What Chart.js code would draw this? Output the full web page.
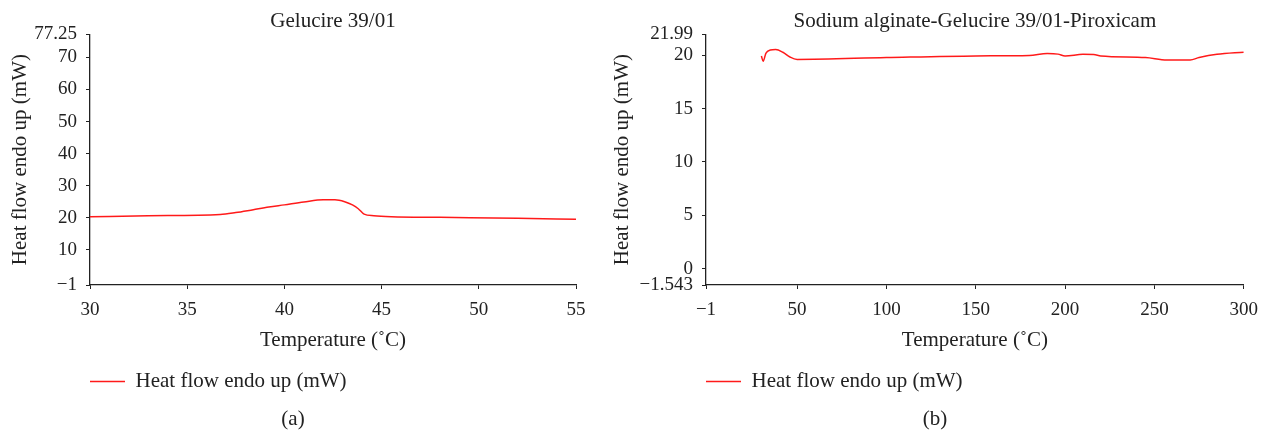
<!DOCTYPE html>
<html>
<head>
<meta charset="utf-8">
<script src="https://cdn.jsdelivr.net/npm/chart.js@4.4.1/dist/chart.umd.min.js"></script>
<style>
    body { margin: 0; background: #fff; width: 1268px; height: 431px; overflow: hidden; position: relative; }
    canvas { position: absolute; top: 0; }
    .caption { position: absolute; top: 406px; width: 60px; margin-left: -30px; text-align: center;
               font: 21px 'Liberation Serif', serif; line-height: 24px; color: #222; }
</style>
</head>
<body>
<canvas id="chart-a" width="600" height="410" style="left:0"></canvas>
<canvas id="chart-b" width="668" height="410" style="left:600px"></canvas>
<div class="caption" style="left:293px">(a)</div>
<div class="caption" style="left:935px">(b)</div>
<script>
// (a) Gelucire 39/01
const tempA = [30, 33, 36.7, 37.5, 38.4, 39.2, 40, 41, 42, 42.6, 43.1, 43.5, 43.8, 44.1, 44.6, 45.5, 48, 52, 55];
const heatA = [20.3, 20.6, 21.0, 21.6, 22.5, 23.3, 24.0, 24.9, 25.6, 25.6, 25.0, 24.0, 22.8, 21.1, 20.6, 20.3, 20.1, 19.8, 19.5];
const xTicksA = [30, 35, 40, 45, 50, 55];
const yTicksA = [-1, 10, 20, 30, 40, 50, 60, 70, 77.25];
const yTickLabelsA = ['\u22121', '10', '20', '30', '40', '50', '60', '70', '77.25'];

// (b) Sodium alginate-Gelucire 39/01-Piroxicam
const tempB = [30, 31, 32.5, 35, 38, 42, 46, 50, 100, 150, 180, 190, 196, 200, 210, 216, 220, 245, 257, 270, 275, 285, 300];
const heatB = [19.95, 19.45, 20.2, 20.5, 20.55, 20.3, 19.85, 19.62, 19.8, 19.95, 20.0, 20.17, 20.12, 19.95, 20.1, 20.08, 19.95, 19.8, 19.58, 19.58, 19.8, 20.1, 20.3];
const xTicksB = [-1, 50, 100, 150, 200, 250, 300];
const xTickLabelsB = ['\u22121', '50', '100', '150', '200', '250', '300'];
const yTicksB = [-1.543, 0, 5, 10, 15, 20, 21.99];
const yTickLabelsB = ['\u22121.543', '0', '5', '10', '15', '20', '21.99'];

const seriesLabel = 'Heat flow endo up (mW)';
const serif = 'Liberation Serif';
const ink = '#222';

function setTicks(values) {
    return scale => { scale.ticks = values.map(v => ({ value: v })); };
}

// createDscChart draws one panel: title, both axes and the single red trace
function createDscChart(targetID, opts) {
    const ctx = document.getElementById(targetID).getContext('2d');
    return new Chart(ctx, {
        type: 'line',
        data: {
            datasets: [{
                label: seriesLabel,
                data: opts.temps.map((t, i) => ({ x: t, y: opts.heat[i] })),
                borderColor: '#ff1a1a',
                borderWidth: 1.5,
                pointRadius: 0,
                cubicInterpolationMode: 'monotone',
                fill: false
            }]
        },
        options: {
            responsive: false,
            animation: false,
            layout: { padding: { left: 0, top: 0, right: opts.padRight, bottom: 8 } },
            plugins: {
                title: {
                    display: true,
                    text: opts.title,
                    fullSize: false,
                    color: ink,
                    font: { family: serif, size: 21, weight: 'normal' },
                    padding: { top: 9, bottom: 0 }
                },
                legend: {
                    position: 'bottom',
                    align: 'start',
                    fullSize: false,
                    labels: {
                        usePointStyle: true,
                        pointStyle: 'line',
                        pointStyleWidth: 35,
                        padding: 0,
                        color: ink,
                        font: { family: serif, size: 21 }
                    }
                },
                tooltip: { enabled: false }
            },
            scales: {
                x: {
                    type: 'linear',
                    min: opts.xTicks[0],
                    max: opts.xTicks[opts.xTicks.length - 1],
                    afterBuildTicks: setTicks(opts.xTicks),
                    afterFit: scale => { scale.height = 86; },
                    grid: { drawOnChartArea: false, drawTicks: true, tickLength: 4, color: ink },
                    border: { color: ink, width: 1.3 },
                    ticks: {
                        autoSkip: false,
                        maxRotation: 0,
                        padding: 10,
                        color: ink,
                        font: { family: serif, size: 19 },
                        callback: (v, i) => opts.xLabels[i]
                    },
                    title: {
                        display: true,
                        text: 'Temperature (\u02DAC)',
                        color: ink,
                        font: { family: serif, size: 21 },
                        padding: { top: 0, bottom: 18 }
                    }
                },
                y: {
                    min: opts.yTicks[0],
                    max: opts.yTicks[opts.yTicks.length - 1],
                    afterBuildTicks: setTicks(opts.yTicks),
                    afterFit: scale => { scale.width = opts.axisLeft; },
                    grid: { drawOnChartArea: false, drawTicks: true, tickLength: 4, color: ink },
                    border: { color: ink, width: 1.3 },
                    ticks: {
                        autoSkip: false,
                        padding: 9,
                        color: ink,
                        font: { family: serif, size: 19 },
                        callback: (v, i) => opts.yLabels[i]
                    },
                    title: {
                        display: true,
                        text: seriesLabel,
                        color: ink,
                        font: { family: serif, size: 21 },
                        padding: { top: opts.yTitlePad, bottom: 0 }
                    }
                }
            }
        }
    });
}

createDscChart('chart-a', {
    title: 'Gelucire 39/01',
    temps: tempA, heat: heatA,
    xTicks: xTicksA, xLabels: xTicksA.map(String),
    yTicks: yTicksA, yLabels: yTickLabelsA,
    axisLeft: 90, padRight: 24, yTitlePad: 8
});

createDscChart('chart-b', {
    title: 'Sodium alginate-Gelucire 39/01-Piroxicam',
    temps: tempB, heat: heatB,
    xTicks: xTicksB, xLabels: xTickLabelsB,
    yTicks: yTicksB, yLabels: yTickLabelsB,
    axisLeft: 106, padRight: 16, yTitlePad: 10
});
</script>
</body>
</html>
